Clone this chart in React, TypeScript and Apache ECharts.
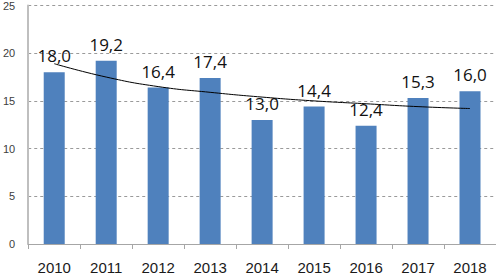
import React, { useEffect, useRef } from "react";
import * as echarts from "echarts";

const years = ["2010", "2011", "2012", "2013", "2014", "2015", "2016", "2017", "2018"];
const values = [18.0, 19.2, 16.4, 17.4, 13.0, 14.4, 12.4, 15.3, 16.0];
const trendValues = [18.9, 17.5, 16.5, 15.9, 15.4, 15.0, 14.7, 14.4, 14.2];

export default function App() {
  const ref = useRef<HTMLDivElement>(null);
  useEffect(() => {
    document.body.style.margin = "0";
    const chart = echarts.init(ref.current!, null, { renderer: "svg" });
    chart.setOption({
      animation: false,
      backgroundColor: "#ffffff",
      grid: { left: 27, right: -7, top: 5, bottom: 33, containLabel: false },
      xAxis: {
        type: "category",
        data: years,
        axisLine: { show: true, lineStyle: { color: "#a6a6a6", width: 1 } },
        axisTick: { show: true, length: 5, lineStyle: { color: "#a6a6a6" } },
        axisLabel: {
          margin: 16,
          color: "#1a1a1a",
          fontSize: 15,
          lineHeight: 15,
          fontFamily: "Liberation Sans",
        },
      },
      yAxis: {
        type: "value",
        min: 0,
        max: 25,
        interval: 5,
        axisLine: { show: true, lineStyle: { color: "#bfbfbf", width: 2 } },
        axisTick: { show: false },
        axisLabel: {
          margin: 13,
          color: "#404040",
          fontSize: 11,
          fontFamily: "Liberation Sans",
        },
        splitLine: {
          show: true,
          lineStyle: { color: "#9a9a9a", type: [3, 3], width: 1 },
        },
      },
      series: [
        {
          type: "bar",
          data: values,
          barWidth: 21,
          itemStyle: { color: "#4F81BD" },
          label: {
            show: true,
            position: "top",
            distance: 8,
            color: "#111111",
            fontSize: 17,
            fontFamily: "Open Sans",
            formatter: (p: any) => Number(p.value).toFixed(1).replace(".", ","),
          },
          z: 2,
        },
        {
          type: "line",
          data: trendValues,
          smooth: true,
          symbol: "none",
          lineStyle: { color: "#000000", width: 1 },
          z: 3,
          silent: true,
        },
      ],
    });
    return () => chart.dispose();
  }, []);
  return <div ref={ref} style={{ width: 496, height: 277 }} />;
}
